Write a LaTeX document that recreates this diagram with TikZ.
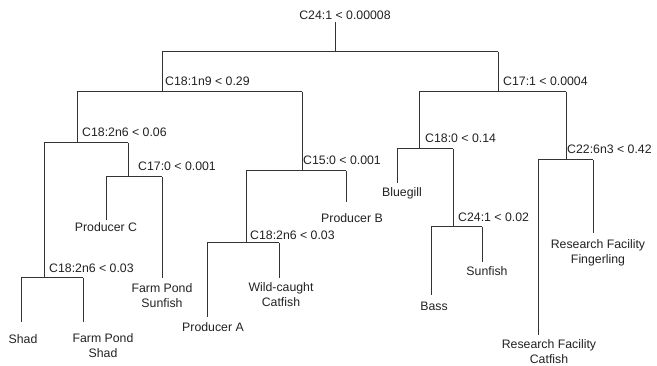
\documentclass[tikz,border=0pt]{standalone}
\usepackage{fontspec}
\setmainfont{Liberation Sans}
\definecolor{linec}{HTML}{333333}
\definecolor{txt}{HTML}{222222}
\begin{document}
\begin{tikzpicture}[x=1pt,y=-1pt,
  br/.style={draw=linec, line width=1pt},
  lab/.style={font=\fontsize{12.3}{15}\selectfont, text=txt, inner sep=0pt, anchor=west},
  leaf/.style={font=\fontsize{12.3}{15}\selectfont, text=txt, inner sep=0pt, align=center}]
\useasboundingbox[fill=white] (0,0) rectangle (657,366);
% coordinates
\coordinate (rt) at (335,22);   \coordinate (rb) at (335,52);
\coordinate (At) at (162,52);   \coordinate (Ab) at (162,92);
\coordinate (Bt) at (498,52);   \coordinate (Bb) at (498,92);
\coordinate (A1t) at (77,92);   \coordinate (A1b) at (77,143);
\coordinate (A2t) at (302,92);  \coordinate (A2b) at (302,171);
\coordinate (A1at) at (44,143); \coordinate (A1ab) at (44,278);
\coordinate (A1ct) at (128,143);\coordinate (A1cb) at (128,177);
\coordinate (St) at (21,278);   \coordinate (Sb) at (21,322);
\coordinate (FSt) at (83,278);  \coordinate (FSb) at (83,322);
\coordinate (PCt) at (106,177); \coordinate (PCb) at (106,220);
\coordinate (FPt) at (162,177); \coordinate (FPb) at (162,278);
\coordinate (A2at) at (246,171);\coordinate (A2ab) at (246,243);
\coordinate (PBt) at (346,171); \coordinate (PBb) at (346,202);
\coordinate (PAt) at (207,243); \coordinate (PAb) at (207,317);
\coordinate (WCt) at (279,243); \coordinate (WCb) at (279,278);
\coordinate (B1t) at (419,92);  \coordinate (B1b) at (419,149);
\coordinate (B2t) at (566,92);  \coordinate (B2b) at (566,160);
\coordinate (BGt) at (397,149); \coordinate (BGb) at (397,183);
\coordinate (B1ct) at (453,149);\coordinate (B1cb) at (453,227);
\coordinate (BAt) at (431,227); \coordinate (BAb) at (431,295);
\coordinate (SUt) at (482,227); \coordinate (SUb) at (482,262);
\coordinate (RCt) at (538,160); \coordinate (RCb) at (538,335);
\coordinate (RFt) at (593,160); \coordinate (RFb) at (593,233);
% bars
\draw[br] (At) -- (Bt);
\draw[br] (A1t) -- (A2t);
\draw[br] (A1at) -- (A1ct);
\draw[br] (St) -- (FSt);
\draw[br] (PCt) -- (FPt);
\draw[br] (A2at) -- (PBt);
\draw[br] (PAt) -- (WCt);
\draw[br] (B1t) -- (B2t);
\draw[br] (BGt) -- (B1ct);
\draw[br] (BAt) -- (SUt);
\draw[br] (RCt) -- (RFt);
% verticals
\foreach \n in {r,A,B,A1,A2,A1a,A1c,S,FS,PC,FP,A2a,PB,PA,WC,B1,B2,BG,B1c,BA,SU,RC,RF}
  \draw[br] (\n t) -- (\n b);
% split labels
\node[leaf] (lr) at (345,15) {C24:1 < 0.00008};
\node[lab] (lA) at (165,81) {C18:1n9 < 0.29};
\node[lab] (lA1) at (82,132) {C18:2n6 < 0.06};
\node[lab] (lA1c) at (138,166) {C17:0 < 0.001};
\node[lab] (lA1a) at (49,268) {C18:2n6 < 0.03};
\node[lab] (lA2) at (303,160) {C15:0 < 0.001};
\node[lab] (lA2a) at (250,235) {C18:2n6 < 0.03};
\node[lab] (lB) at (503,81) {C17:1 < 0.0004};
\node[lab] (lB1) at (425,138) {C18:0 < 0.14};
\node[lab] (lB2) at (567,149) {C22:6n3 < 0.42};
\node[lab] (lB1c) at (458,217) {C24:1 < 0.02};
% leaves
\node[leaf] (shad) at (23,339) {Shad};
\node[leaf] (fps) at (103,346) {Farm Pond\\Shad};
\node[leaf] (pc) at (106,227) {Producer C};
\node[leaf] (fpsun) at (162,295.5) {Farm Pond\\Sunfish};
\node[leaf] (pa) at (213,327) {Producer A};
\node[leaf] (wc) at (281,294.5) {Wild-caught\\Catfish};
\node[leaf] (pb) at (352,218) {Producer B};
\node[leaf] (bg) at (402,193) {Bluegill};
\node[leaf] (bass) at (434,306) {Bass};
\node[leaf] (sun) at (487,271) {Sunfish};
\node[leaf] (rc) at (549,351.5) {Research Facility\\Catfish};
\node[leaf] (rf) at (598,253) {Research Facility\\Fingerling};
\end{tikzpicture}
\end{document}
